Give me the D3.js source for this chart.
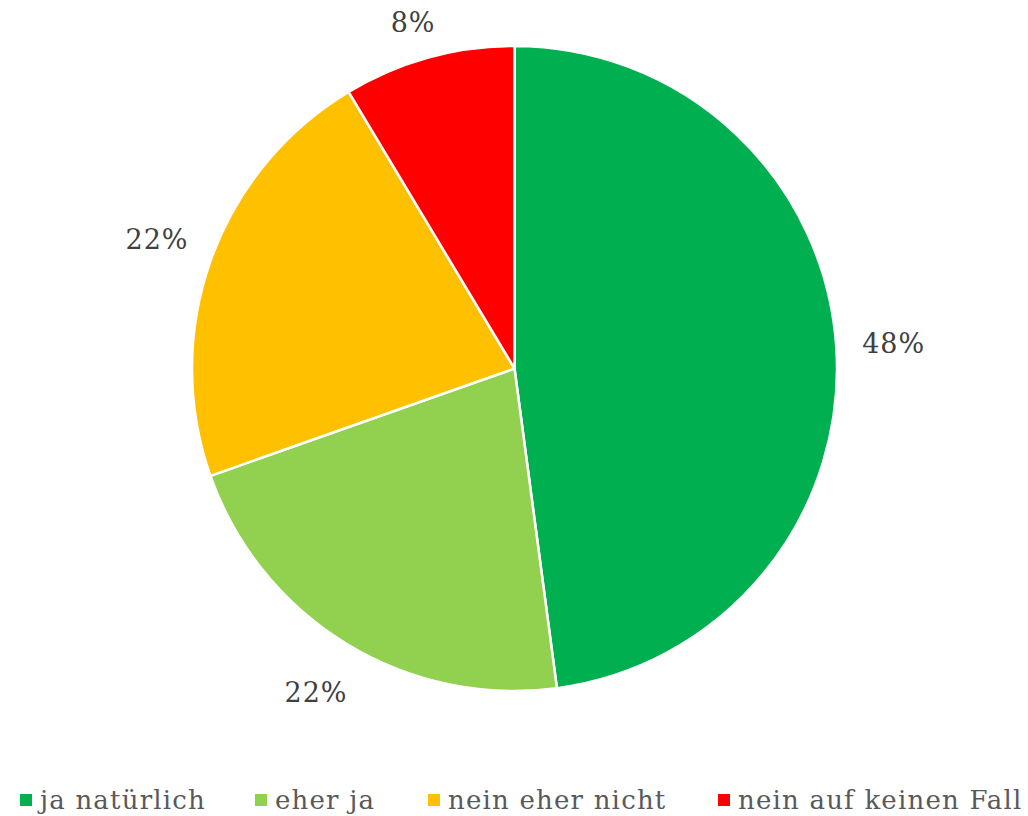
<!DOCTYPE html>
<html>
<head>
<meta charset="utf-8">
<script src="https://cdn.jsdelivr.net/npm/d3@7"></script>
<style>
  body { margin: 0; background: #fff; }
  svg { display: block; }
</style>
</head>
<body>
<svg id="chart"></svg>
<script>
var categories = ['ja natürlich', 'eher ja', 'nein eher nicht', 'nein auf keinen Fall'];
var values = [47.9, 21.7, 21.8, 8.6];
var labels = ['48%', '22%', '22%', '8%'];
var colors = ['#00b050', '#92d050', '#ffc000', '#ff0000'];

const W = 1028, H = 816;
const cx = 514.5, cy = 368.5, r = 322.5;
const font = "'DejaVu Serif', serif";

var svg = d3.select('#chart').attr('width', W).attr('height', H);

var data = categories.map((c, i) => ({ name: c, value: values[i], label: labels[i], color: colors[i] }));

var pie = d3.pie().sort(null).value(d => d.value);
var arc = d3.arc().innerRadius(0).outerRadius(r);
var labelArc = d3.arc().innerRadius(380).outerRadius(380);

var g = svg.append('g').attr('transform', `translate(${cx},${cy})`);
var arcs = pie(data);

g.selectAll('path')
  .data(arcs)
  .join('path')
  .attr('d', arc)
  .attr('fill', d => d.data.color)
  .attr('stroke', '#fff')
  .attr('stroke-width', 2.5);

// labels outside the pie, kept inside the picture
g.selectAll('text')
  .data(arcs)
  .join('text')
  .each(function (d) {
    let [x, y] = labelArc.centroid(d);
    y = Math.max(y, -cy + 22);
    d3.select(this).attr('x', x).attr('y', y);
  })
  .attr('text-anchor', 'middle')
  .attr('dominant-baseline', 'central')
  .attr('fill', '#404040')
  .style('font', `27px ${font}`)
  .style('letter-spacing', '1px')
  .text(d => d.data.label);

// legend
var legendX = [20, 255, 428, 718];
var leg = svg.append('g')
  .selectAll('g')
  .data(data)
  .join('g')
  .attr('transform', (d, i) => `translate(${legendX[i]},800)`);

leg.append('rect')
  .attr('x', 0).attr('y', -6)
  .attr('width', 12).attr('height', 12)
  .attr('fill', d => d.color);

leg.append('text')
  .attr('x', 20)
  .attr('dominant-baseline', 'central')
  .attr('fill', '#595959')
  .style('font', `26px ${font}`)
  .style('letter-spacing', '1.2px')
  .text(d => d.name);
</script>
</body>
</html>
